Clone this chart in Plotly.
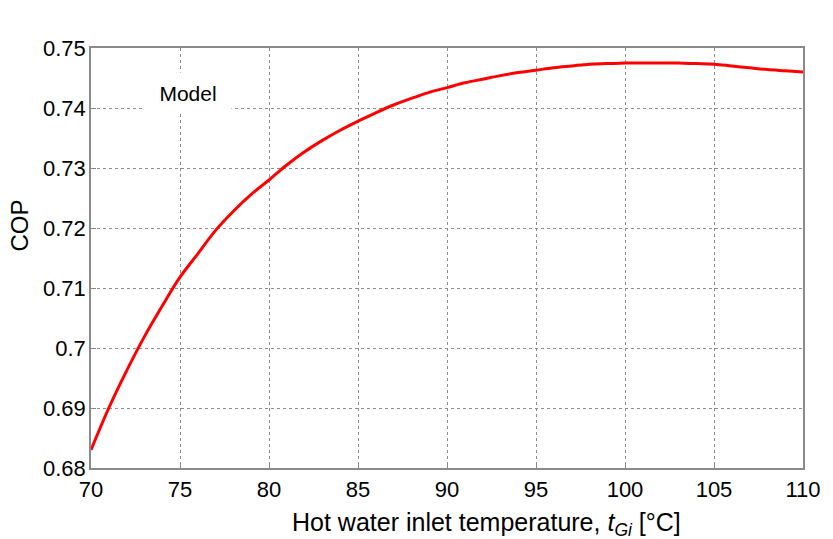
import plotly.graph_objects as go

temps = list(range(70, 111))
cop = [0.6830, 0.6900, 0.6962, 0.7019, 0.7070, 0.7118, 0.7157, 0.7196, 0.7228, 0.7256,
       0.7280, 0.7305, 0.7327, 0.7346, 0.7363, 0.7378, 0.7392, 0.7405, 0.7416, 0.7426,
       0.7434, 0.7442, 0.7448, 0.7454, 0.7459, 0.7463, 0.7467, 0.7470, 0.7473, 0.7474,
       0.7475, 0.7475, 0.7475, 0.7475, 0.7474, 0.7473, 0.7470, 0.7467, 0.7464, 0.7462,
       0.7460]

x_ticks = [70, 75, 80, 85, 90, 95, 100, 105, 110]
y_ticks = [0.68, 0.69, 0.70, 0.71, 0.72, 0.73, 0.74, 0.75]
y_labels = ["0.68", "0.69", "0.7", "0.71", "0.72", "0.73", "0.74", "0.75"]

x_title = "Hot water inlet temperature, <i>t</i><sub><i>Gi</i></sub> [°C]"
y_title = "COP"
legend_label = "Model"

font = "Liberation Sans, Arial, sans-serif"

fig = go.Figure()
fig.add_trace(go.Scatter(x=temps, y=cop, mode="lines", line=dict(color="#ff0000", width=3, shape="spline"),
                         name=legend_label, showlegend=False))

axis_common = dict(showgrid=True, gridcolor="#8c8c8c", griddash="dot", gridwidth=1,
                   showline=True, linecolor="#8a8a8a", linewidth=1.5, mirror=True,
                   ticks="inside", ticklen=5, tickcolor="#8a8a8a",
                   tickfont=dict(family=font, size=22, color="#000"), zeroline=False)

L, R, T, B = 91, 24, 48, 71
pw = 833 - L - R
ph = 539 - T - B


def px(xp):
    return (xp - L) / pw


def py(yp):
    return 1 - (yp - T) / ph


fig.update_layout(
    width=833, height=539,
    margin=dict(l=L, r=R, t=T, b=B),
    paper_bgcolor="white", plot_bgcolor="white",
    xaxis=dict(range=[70, 110], tickvals=x_ticks, ticktext=[str(v) for v in x_ticks],
               ticklabelstandoff=1, **axis_common),
    yaxis=dict(range=[0.68, 0.75], tickvals=y_ticks, ticktext=y_labels,
               ticklabelstandoff=-1, **axis_common),
    annotations=[
        dict(x=px(189), y=py(93), xref="paper", yref="paper",
             xanchor="center", yanchor="middle", text=legend_label, showarrow=False,
             font=dict(family=font, size=21, color="#000"), bgcolor="white",
             width=84, height=38),
        dict(x=px(490), y=py(524), xref="paper", yref="paper",
             xanchor="center", yanchor="middle", text=x_title, showarrow=False,
             font=dict(family=font, size=25, color="#000")),
        dict(x=px(18), y=py(226), xref="paper", yref="paper", textangle=-90,
             xanchor="center", yanchor="middle", text=y_title, showarrow=False,
             font=dict(family=font, size=24, color="#000")),
    ],
)

fig.write_html("out.html")
